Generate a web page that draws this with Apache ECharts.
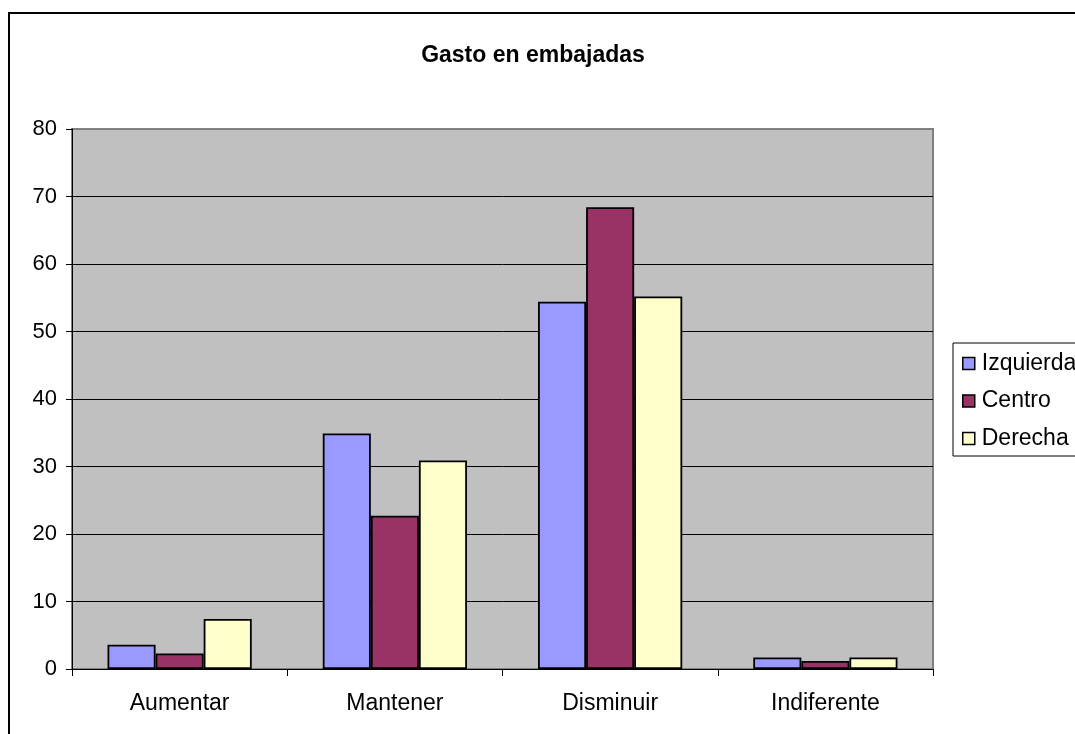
<!DOCTYPE html>
<html>
<head>
    <meta charset="utf-8">
    <title>Gasto en embajadas</title>
    <script src="https://cdn.jsdelivr.net/npm/echarts@6/dist/echarts.min.js"></script>
    <style>
        html, body { margin: 0; padding: 0; background: #ffffff; }
        #chart { width: 1075px; height: 734px; }
    </style>
</head>
<body>
<div id="chart"></div>
<script>
    var categories = ['Aumentar', 'Mantener', 'Disminuir', 'Indiferente'];
    var seriesNames = ['Izquierda', 'Centro', 'Derecha'];
    var izquierda = [3.6, 34.9, 54.4, 1.7];
    var centro = [2.3, 22.7, 68.4, 1.2];
    var derecha = [7.4, 30.9, 55.2, 1.7];
    var yTicks = [0, 80, 10]; // min, max, interval

    var font = 'Liberation Sans, Arial, sans-serif';
    var colors = ['#9999FF', '#993366', '#FFFFCC'];
    var values = [izquierda, centro, derecha];

    var chart = echarts.init(document.getElementById('chart'));

    var series = seriesNames.map(function (name, i) {
        return {
            name: name,
            type: 'bar',
            data: values[i],
            barGap: '0%',
            barCategoryGap: '33%',
            itemStyle: {
                color: colors[i],
                borderColor: '#000000',
                borderWidth: 1.8
            },
            emphasis: { disabled: true }
        };
    });

    var option = {
        animation: false,
        backgroundColor: '#ffffff',
        textStyle: { fontFamily: font },
        title: {
            text: 'Gasto en embajadas',
            left: 528,
            textAlign: 'center',
            top: 39,
            textStyle: { fontFamily: font, fontSize: 23, fontWeight: 'bold', color: '#000000' }
        },
        graphic: [{
            type: 'rect',
            shape: { x: 9, y: 13, width: 1100, height: 800 },
            style: { fill: 'none', stroke: '#000000', lineWidth: 2 },
            silent: true
        }],
        legend: {
            orient: 'vertical',
            left: 953,
            top: 343,
            padding: [9, 40, 6, 9],
            itemWidth: 12,
            itemHeight: 12,
            itemGap: 14.5,
            backgroundColor: '#ffffff',
            borderColor: '#000000',
            borderWidth: 1,
            borderRadius: 0,
            data: seriesNames.map(function (n) {
                return { name: n, icon: 'rect', itemStyle: { borderColor: '#000000', borderWidth: 1.5 } };
            }),
            textStyle: { fontFamily: font, fontSize: 23, color: '#000000', lineHeight: 23, padding: [0, 0, 0, 2] }
        },
        grid: {
            left: 72,
            right: 142,
            top: 129,
            bottom: 65,
            show: true,
            backgroundColor: '#C0C0C0',
            borderColor: '#808080',
            borderWidth: 2
        },
        xAxis: {
            type: 'category',
            data: categories,
            axisLine: { lineStyle: { color: '#000000', width: 1 } },
            axisTick: { show: true, length: 7, lineStyle: { color: '#000000' } },
            axisLabel: { fontFamily: font, fontSize: 23, color: '#000000', margin: 23 }
        },
        yAxis: {
            type: 'value',
            min: yTicks[0],
            max: yTicks[1],
            interval: yTicks[2],
            axisLine: { show: true, lineStyle: { color: '#000000', width: 1 } },
            axisTick: { show: true, length: 6, lineStyle: { color: '#000000' } },
            axisLabel: { fontFamily: font, fontSize: 22, color: '#000000', margin: 15 },
            splitLine: { show: true, showMaxLine: false, lineStyle: { color: '#000000', width: 1 } }
        },
        series: series
    };

    chart.setOption(option);
</script>
</body>
</html>
